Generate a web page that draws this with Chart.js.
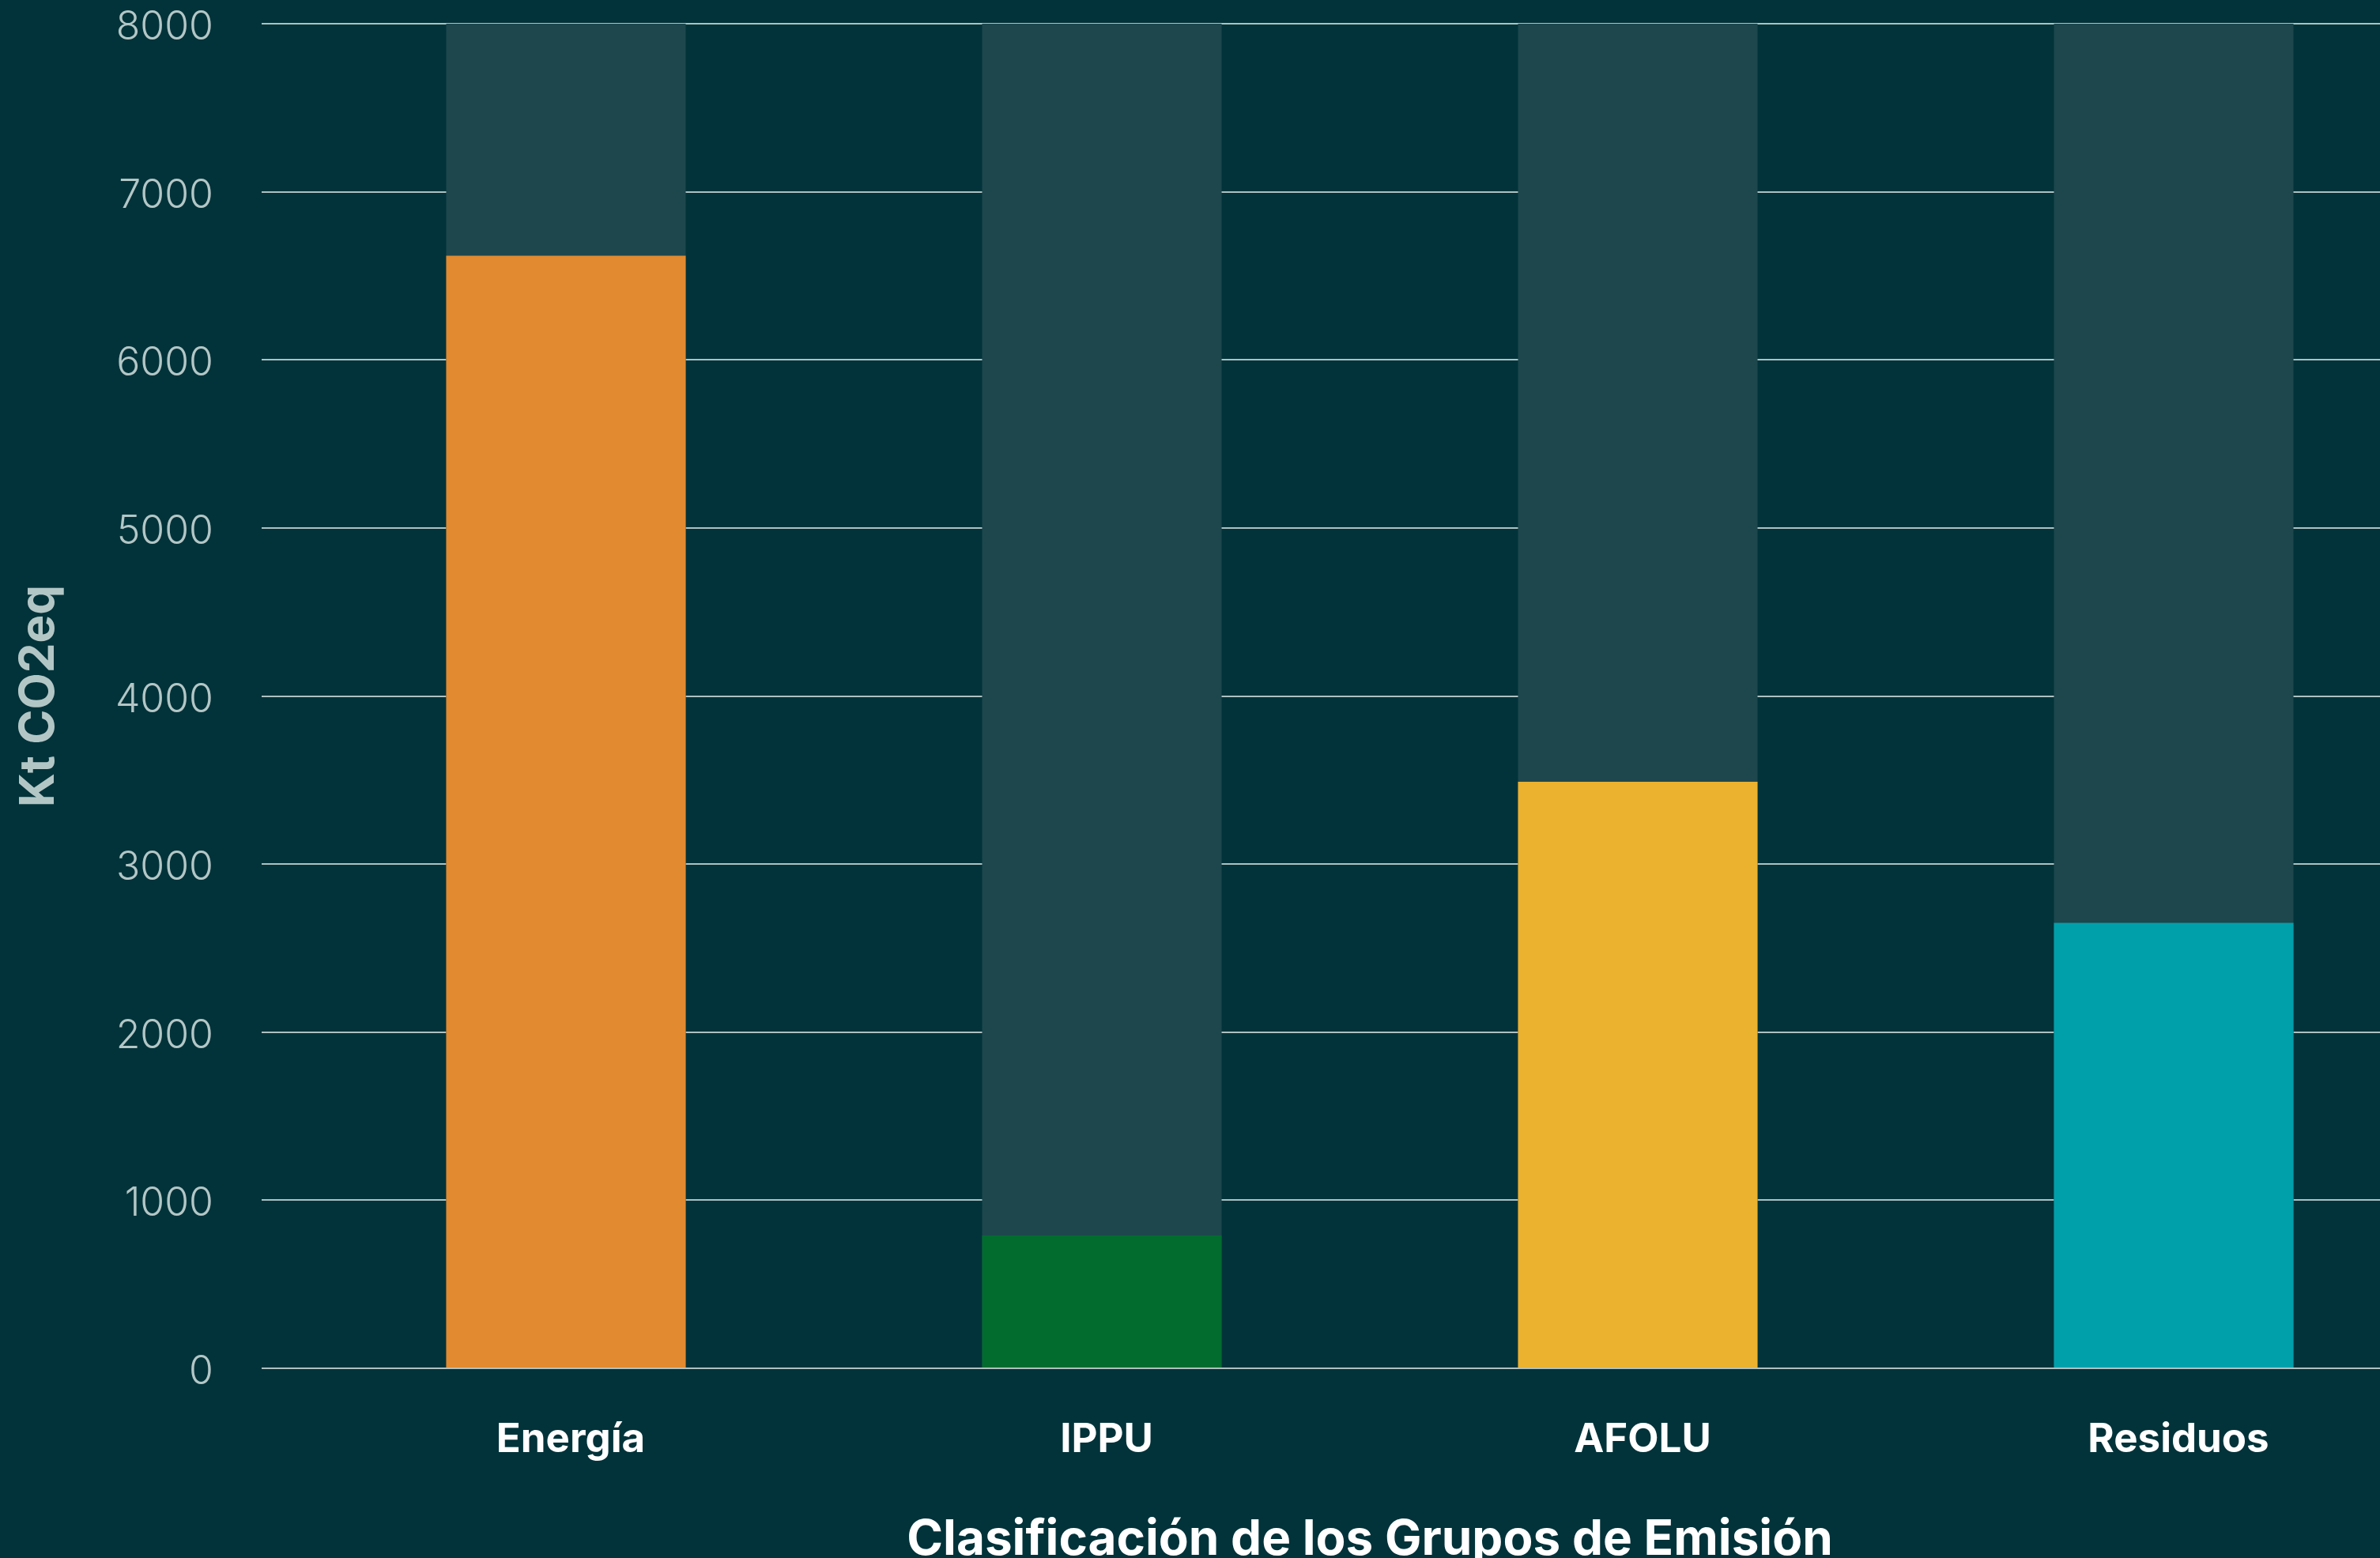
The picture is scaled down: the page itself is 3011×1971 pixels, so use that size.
<!DOCTYPE html>
<html>
<head>
<meta charset="utf-8">
<script src="https://cdn.jsdelivr.net/npm/chart.js@4.4.1/dist/chart.umd.min.js"></script>
<style>
html,body{margin:0;padding:0;background:#02333a;overflow:hidden;}
canvas{display:block;}
</style>
</head>
<body>
<canvas id="myChart" width="3100" height="2000"></canvas>
<script>
// datos (Kt CO2eq)
var categorias = ["Energía", "IPPU", "AFOLU", "Residuos"];
var emisiones = [6620, 790, 3490, 2650];
var fondo = [8000, 8000, 8000, 8000];
var coloresBarras = ["#e28a2f", "#026c2f", "#eab22f", "#00a0ab"];
var ejeY = { min: 0, max: 8000, paso: 1000 };

var ctx = document.getElementById("myChart");
var myChart = new Chart(ctx, {
  type: 'bar',
  data: {
    labels: categorias,
    datasets: [{
      label: 'emisiones',
      data: emisiones,
      backgroundColor: coloresBarras,
      order: 1
    }, {
      label: 'fondo',
      data: fondo,
      backgroundColor: "#1d474d",
      order: 2
    }]
  },
  options: {
    responsive: false,
    animation: false,
    layout: { padding: { top: 30, right: 11, left: 0, bottom: 0 } },
    datasets: { bar: { grouped: false, barPercentage: 0.447, categoryPercentage: 1 } },
    plugins: { legend: { display: false }, tooltip: { enabled: false } },
    scales: {
      x: {
        grid: { display: false, drawTicks: false },
        border: { display: false },
        ticks: { color: "#ffffff", padding: 60, labelOffset: 6, font: { family: "Inter", size: 51, weight: "bold" } },
        title: {
          display: true,
          text: "Clasificación de los Grupos de Emisión",
          color: "#ffffff",
          padding: { top: 0, bottom: 14 },
          font: { family: "Inter", size: 62, weight: "bold" }
        },
        afterFit: function(s){ s.height = 269; s.paddingLeft = 0; s.paddingRight = 0; }
      },
      y: {
        min: ejeY.min,
        max: ejeY.max,
        grid: { color: "#adc1c1", lineWidth: 2, tickLength: 46, drawTicks: true },
        border: { display: false },
        ticks: {
          stepSize: ejeY.paso, color: "#b3c6c6", padding: 61, labelOffset: 5,
          format: { useGrouping: false },
          font: { family: "Inter", size: 50, weight: 300 }
        },
        title: {
          display: true,
          text: "Kt CO2eq",
          color: "#b3c6c6",
          padding: { top: 14, bottom: 0 },
          font: { family: "Inter", size: 60, weight: "bold" }
        },
        afterFit: function(s){ s.width = 377; s.paddingTop = 0; s.paddingBottom = 0; }
      }
    }
  }
});
</script>
</body>
</html>
